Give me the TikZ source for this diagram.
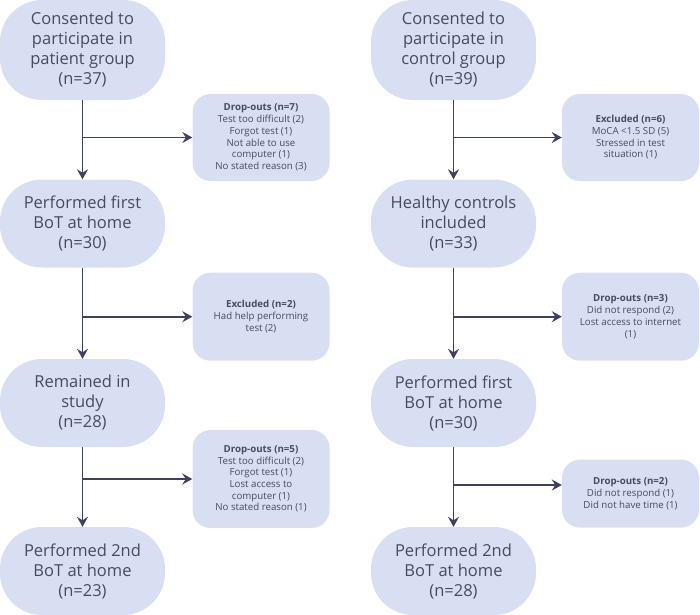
\documentclass[tikz,border=0pt]{standalone}
\usepackage{fontspec}
\setmainfont{Open Sans}
\usetikzlibrary{arrows.meta}
\definecolor{boxfill}{RGB}{217,223,242}
\definecolor{textcol}{RGB}{70,75,98}
\definecolor{linecol}{RGB}{62,66,96}
\tikzset{
  stage/.style={rectangle, rounded corners=42pt, fill=boxfill, text=textcol,
    minimum width=165pt, minimum height=88pt, align=center, inner sep=0pt,
    font=\fontsize{16.5}{20}\selectfont},
  reason/.style={rectangle, rounded corners=18pt, fill=boxfill, text=textcol,
    minimum width=137pt, minimum height=88pt, align=center, inner sep=0pt,
    font=\fontsize{9.7}{11.7}\selectfont},
  flow/.style={draw=linecol, line width=1.6pt, -{Stealth[length=10pt,width=11pt,inset=3.5pt]}}
}
\begin{document}
\begin{tikzpicture}[x=1pt, y=-1pt]
%Kich thuoc hinh
\useasboundingbox (0,0) rectangle (700,614);
\def\xl{82.5}   \def\xr{453.5}
\def\dl{261}    \def\dr{630.5}
%Nhanh benh nhan
\node[stage, minimum height=100pt] (L1) at (\xl,50) {Consented to\\participate in\\patient group\\(n=37)};
\node[stage] (L2) at (\xl,223.5) {Performed first\\BoT at home\\(n=30)};
\node[stage] (L3) at (\xl,403) {Remained in\\study\\(n=28)};
\node[stage] (L4) at (\xl,571) {Performed 2nd\\BoT at home\\(n=23)};
\node[reason, minimum height=87pt] (D1) at (\dl,137.5) {\textbf{Drop-outs (n=7)}\\Test too difficult (2)\\Forgot test (1)\\Not able to use\\computer (1)\\No stated reason (3)};
\node[reason] (D2) at (\dl,316.7) {\textbf{Excluded (n=2)}\\Had help performing\\test (2)};
\node[reason, minimum height=98pt] (D3) at (\dl,479) {\textbf{Drop-outs (n=5)}\\Test too difficult (2)\\Forgot test (1)\\Lost access to\\computer (1)\\No stated reason (1)};
%Nhanh doi chung
\node[stage, minimum height=100pt] (R1) at (\xr,50) {Consented to\\participate in\\control group\\(n=39)};
\node[stage] (R2) at (\xr,223.5) {Healthy controls\\included\\(n=33)};
\node[stage] (R3) at (\xr,403) {Performed first\\BoT at home\\(n=30)};
\node[stage] (R4) at (\xr,571) {Performed 2nd\\BoT at home\\(n=28)};
\node[reason, minimum height=87pt] (E1) at (\dr,137.5) {\textbf{Excluded (n=6)}\\MoCA <1.5 SD (5)\\Stressed in test\\situation (1)};
\node[reason] (E2) at (\dr,316.7) {\textbf{Drop-outs (n=3)}\\Did not respond (2)\\Lost access to internet\\(1)};
\node[reason, minimum height=68pt] (E3) at (\dr,493.6) {\textbf{Drop-outs (n=2)}\\Did not respond (1)\\Did not have time (1)};
\coordinate (b3) at (\xr,485);
%Mui ten
\draw[flow] (L1) -- (L2);
\draw[flow] (L2) -- (L3);
\draw[flow] (L3) -- (L4);
\draw[flow] (R1) -- (R2);
\draw[flow] (R2) -- (R3);
\draw[flow] (R3) -- (R4);
\draw[flow] (L1 |- D1.west) -- (D1.west);
\draw[flow] (L2 |- D2.west) -- (D2.west);
\draw[flow] (L3 |- D3.west) -- (D3.west);
\draw[flow] (R1 |- E1.west) -- (E1.west);
\draw[flow] (R2 |- E2.west) -- (E2.west);
\draw[flow] (b3) -- (b3 -| E3.west);
\end{tikzpicture}
\end{document}
